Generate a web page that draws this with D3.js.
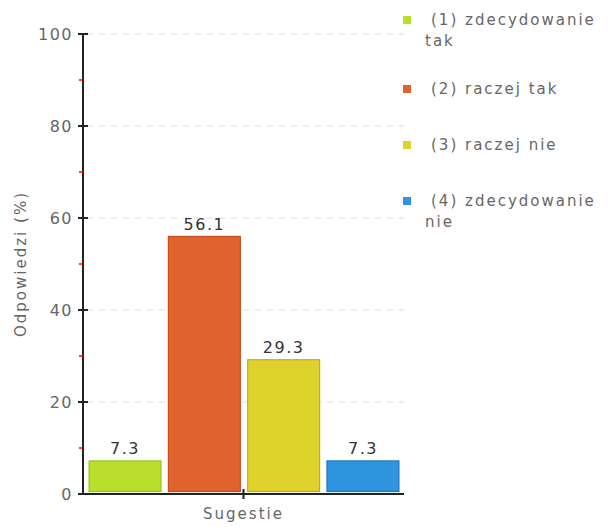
<!DOCTYPE html>
<html>
<head>
<meta charset="utf-8">
<script src="https://cdn.jsdelivr.net/npm/d3@7"></script>
<style>
  body { margin: 0; background: #fff; }
  text { font-family: "DejaVu Sans", Verdana, sans-serif; }
</style>
</head>
<body>
<div id="chart"></div>
<script>
  // dane
  const categories = ["(1) zdecydowanie tak", "(2) raczej tak", "(3) raczej nie", "(4) zdecydowanie nie"];
  const values = [7.3, 56.1, 29.3, 7.3];
  const colors = ["#bade2c", "#e0632d", "#e0d22d", "#2f95de"];
  const borders = ["#9cc021", "#c44d1c", "#bdb020", "#1f76bf"];
  const legendLines = [["(1) zdecydowanie", "tak"], ["(2) raczej tak"], ["(3) raczej nie"], ["(4) zdecydowanie", "nie"]];
  const majorTicks = [0, 20, 40, 60, 80, 100];
  const minorTicks = [10, 30, 50, 70, 90];

  const width = 610, height = 527;
  const plotLeft = 83, plotRight = 404, plotTop = 34, plotBottom = 494;

  const svg = d3.select("#chart").append("svg")
    .attr("width", width).attr("height", height);

  const y = d3.scaleLinear().domain([0, 100]).range([plotBottom, plotTop]);
  const x = d3.scaleBand().domain(categories).range([plotLeft + 4, plotRight - 3]).paddingInner(0.08).paddingOuter(0.02);

  // siatka
  svg.selectAll(".grid").data(majorTicks.filter(d => d > 0)).enter()
    .append("line")
    .attr("x1", plotLeft + 4).attr("x2", plotRight)
    .attr("y1", d => y(d)).attr("y2", d => y(d))
    .attr("stroke", "#dddddd").attr("stroke-dasharray", "6,6");

  // słupki
  svg.selectAll(".bar").data(values).enter()
    .append("rect")
    .attr("x", (d, i) => x(categories[i]) + 0.5)
    .attr("y", d => y(d) + 0.5)
    .attr("width", x.bandwidth() - 1)
    .attr("height", d => plotBottom - 3 - y(d))
    .attr("fill", (d, i) => colors[i])
    .attr("stroke", (d, i) => borders[i])
    .attr("stroke-width", 1.2);

  svg.selectAll(".val").data(values).enter()
    .append("text")
    .attr("x", (d, i) => x(categories[i]) + x.bandwidth() / 2)
    .attr("y", d => y(d) - 6)
    .attr("text-anchor", "middle")
    .style("font-size", "16px")
    .style("letter-spacing", "1.5px")
    .style("fill", "#333")
    .text(d => d.toFixed(1));

  // oś Y
  const yAxis = svg.append("g").attr("transform", `translate(${plotLeft},0)`);
  yAxis.append("line").attr("x1", 0).attr("x2", 0).attr("y1", plotTop).attr("y2", plotBottom)
    .attr("stroke", "#222").attr("stroke-width", 2);
  yAxis.selectAll(".maj").data(majorTicks).enter().append("line")
    .attr("x1", -5).attr("x2", 5).attr("y1", d => y(d)).attr("y2", d => y(d))
    .attr("stroke", "#222").attr("stroke-width", 2);
  yAxis.selectAll(".min").data(minorTicks).enter().append("line")
    .attr("x1", -4).attr("x2", 0).attr("y1", d => y(d)).attr("y2", d => y(d))
    .attr("stroke", "#ff0000").attr("stroke-width", 1.5);
  yAxis.selectAll(".lbl").data(majorTicks).enter().append("text")
    .attr("x", -10).attr("y", d => y(d) + 6)
    .attr("text-anchor", "end")
    .style("font-size", "16px")
    .style("letter-spacing", "1.5px")
    .style("fill", "#666")
    .text(d => d);

  svg.append("text")
    .attr("transform", `translate(26,${(plotTop + plotBottom) / 2}) rotate(-90)`)
    .attr("text-anchor", "middle")
    .style("font-size", "15px")
    .style("letter-spacing", "2px")
    .style("fill", "#666")
    .text("Odpowiedzi (%)");

  // oś X
  svg.append("line").attr("x1", plotLeft - 1).attr("x2", plotRight).attr("y1", plotBottom).attr("y2", plotBottom)
    .attr("stroke", "#222").attr("stroke-width", 2);
  const cx = (plotLeft + plotRight) / 2;
  svg.append("line").attr("x1", cx).attr("x2", cx).attr("y1", plotBottom - 5).attr("y2", plotBottom + 5)
    .attr("stroke", "#222").attr("stroke-width", 2);
  svg.append("text")
    .attr("x", cx).attr("y", plotBottom + 25)
    .attr("text-anchor", "middle")
    .style("font-size", "15px")
    .style("letter-spacing", "2px")
    .style("fill", "#666")
    .text("Sugestie");

  // legenda
  const legendY = [20, 89, 145, 201];
  const leg = svg.selectAll(".leg").data(legendLines).enter().append("g")
    .attr("transform", (d, i) => `translate(403,${legendY[i]})`);
  leg.append("rect")
    .attr("x", 0).attr("y", -4).attr("width", 8).attr("height", 8)
    .attr("fill", (d, i) => colors[i]);
  leg.each(function (lines) {
    const g = d3.select(this);
    lines.forEach((t, j) => {
      g.append("text")
        .attr("x", j === 0 ? 28 : 22)
        .attr("y", 5 + j * 21)
        .style("font-size", "15px")
        .style("letter-spacing", "2px")
        .style("fill", "#666")
        .text(t);
    });
  });
</script>
</body>
</html>
